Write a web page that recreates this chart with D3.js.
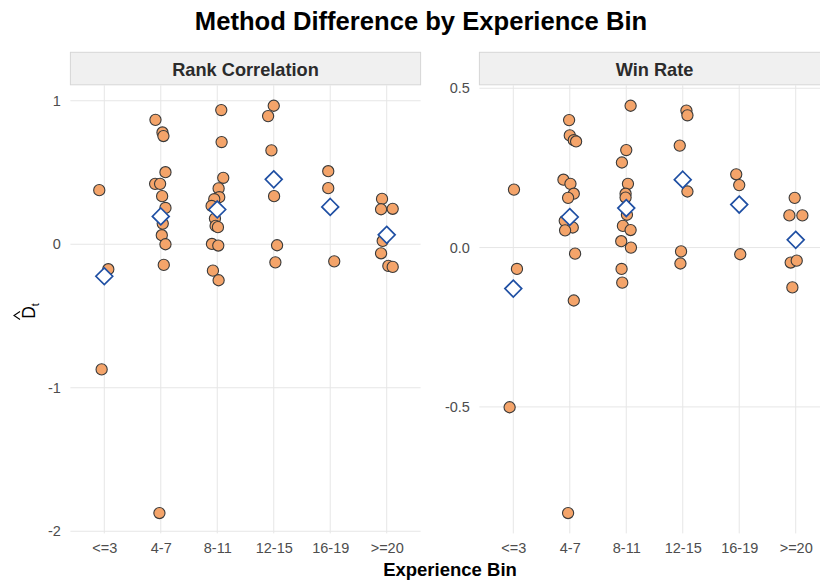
<!DOCTYPE html>
<html>
<head>
<meta charset="utf-8">
<script src="https://cdn.jsdelivr.net/npm/d3@7"></script>
<style>
body{margin:0;background:#fff;}
svg{display:block;font-family:"Liberation Sans",Arial,sans-serif;}
</style>
</head>
<body>
<script>
// experience bins and the two facets
const bins=["<=3","4-7","8-11","12-15","16-19",">=20"];
const panels=["Rank Correlation","Win Rate"];

// per-bin values
const rankValues=[
 [0.377,-0.174,-0.872],
 [0.867,0.779,0.754,0.502,0.421,0.421,0.335,0.253,0.144,0.063,0.0,-0.144,-1.873],
 [0.935,0.712,0.463,0.389,0.328,0.314,0.267,0.179,0.128,0.119,0.002,-0.009,-0.184,-0.251],
 [0.965,0.893,0.654,0.335,-0.007,-0.126],
 [0.509,0.391,-0.119],
 [0.316,0.244,0.247,0.023,-0.063,-0.151,-0.158]
];
// horizontal jitter (category units)
const rankJitter=[
 [-0.089,0.071,-0.047],
 [-0.094,0.03,0.047,0.083,-0.1,-0.012,0.024,0.083,0.035,0.018,0.083,0.053,-0.024],
 [0.071,0.077,0.106,0.024,0.035,-0.053,-0.1,-0.041,-0.029,0.012,-0.094,0.018,-0.077,0.024],
 [0,-0.1,-0.041,0.006,0.059,0.029],
 [-0.035,-0.035,0.071],
 [-0.083,-0.1,0.106,-0.071,-0.1,0.029,0.106]
];
const winValues=[
 [0.182,-0.067,-0.501],
 [0.4,0.352,0.337,0.333,0.213,0.2,0.169,0.156,0.084,0.063,0.054,-0.019,-0.166,-0.833],
 [0.445,0.306,0.267,0.2,0.169,0.157,0.103,0.068,0.055,0.02,0.0,-0.067,-0.11],
 [0.43,0.415,0.32,0.176,-0.012,-0.05],
 [0.23,0.196,-0.021],
 [0.156,0.101,0.101,-0.047,-0.041,-0.125]
];
const winJitter=[
 [0.012,0.065,-0.065],
 [-0.012,0,0.071,0.112,-0.112,0.012,0.071,-0.03,-0.089,0.053,-0.083,0.094,0.071,-0.03],
 [0.077,0,-0.077,0.03,-0.012,-0.012,0.012,-0.059,0.077,-0.089,0.083,-0.083,-0.071],
 [0.065,0.083,-0.053,0.083,-0.03,-0.041],
 [-0.053,0,0.018],
 [-0.018,-0.112,0.118,-0.089,0.018,-0.059]
];
const rankTicks=[-2,-1,0,1];
const winTicks=[-0.5,0,0.5];

const w=820,h=581;
const panelTop=85.4,panelBottom=533.4,stripTop=52.3;
const panelLeft=[70.4,479.4],panelW=350.2;

const svg=d3.select("body").append("svg")
  .attr("width",w).attr("height",h);

const hyphen=f=>d=>f(d).replace("\u2212","-");

const facets=[
  {name:panels[0],values:rankValues,jitter:rankJitter,ticks:rankTicks,fmt:hyphen(d3.format("d"))},
  {name:panels[1],values:winValues,jitter:winJitter,ticks:winTicks,fmt:hyphen(d3.format(".1f"))}
];

facets.forEach((f,i)=>{
  const x0=panelLeft[i];
  const all=f.values.flat();
  const ext=d3.extent(all);
  const pad=(ext[1]-ext[0])*0.05;
  const y=d3.scaleLinear().domain([ext[0]-pad,ext[1]+pad]).range([panelBottom,panelTop]);
  const x=d3.scaleLinear().domain([0.4,6.6]).range([x0,x0+panelW]);

  const g=svg.append("g");
  // gridlines
  g.selectAll(".hg").data(f.ticks).enter().append("line")
    .attr("x1",x0).attr("x2",x0+panelW)
    .attr("y1",d=>y(d)).attr("y2",d=>y(d))
    .attr("stroke","#e6e6e6").attr("stroke-width",1);
  g.selectAll(".vg").data(bins).enter().append("line")
    .attr("x1",(d,k)=>x(k+1)).attr("x2",(d,k)=>x(k+1))
    .attr("y1",panelTop).attr("y2",panelBottom)
    .attr("stroke","#e6e6e6").attr("stroke-width",1);

  // strip
  g.append("rect").attr("x",x0).attr("y",stripTop)
    .attr("width",panelW).attr("height",panelTop-stripTop-0.6)
    .attr("fill","#f0f0f0").attr("stroke","#d6d6d6").attr("stroke-width",1);
  g.append("text").attr("x",x0+panelW/2).attr("y",panelTop-9.8)
    .attr("text-anchor","middle").attr("font-size",18.2).attr("font-weight","bold")
    .attr("fill","#2b2b2b").text(f.name);

  // axes
  const yAxis=d3.axisLeft(y).tickValues(f.ticks).tickFormat(f.fmt).tickSize(0).tickPadding(9.5);
  const ya=g.append("g").attr("transform","translate("+x0+",0)").call(yAxis);
  const xAxis=d3.axisBottom(x).tickValues(d3.range(1,7)).tickFormat(d=>bins[d-1]).tickSize(0).tickPadding(9);
  const xa=g.append("g").attr("transform","translate(0,"+panelBottom+")").call(xAxis);
  [ya,xa].forEach(a=>{
    a.select(".domain").remove();
    a.selectAll("text").attr("font-size",14.5).attr("fill","#4d4d4d")
      .attr("font-family","'Liberation Sans',Arial,sans-serif");
  });

  // points
  const pts=[];
  f.values.forEach((arr,k)=>arr.forEach((v,j)=>pts.push({bin:k+1,v:v,jit:f.jitter[k][j]})));
  g.selectAll("circle").data(pts).enter().append("circle")
    .attr("cx",d=>x(d.bin+d.jit)).attr("cy",d=>y(d.v)).attr("r",5.6)
    .attr("fill","#F4A46A").attr("stroke","#3a3a3a").attr("stroke-width",1.1);

  // bin means
  const means=f.values.map((arr,k)=>({bin:k+1,m:d3.mean(arr)}));
  g.selectAll(".mean").data(means).enter().append("path")
    .attr("class","mean")
    .attr("transform",d=>"translate("+x(d.bin)+","+y(d.m)+")")
    .attr("d",d3.symbol().type(d3.symbolDiamond2).size(180))
    .attr("fill","#fff").attr("stroke","#1f4fa3").attr("stroke-width",1.7);
});

// title & axis titles
svg.append("text").attr("x",421).attr("y",30).attr("text-anchor","middle")
  .attr("font-size",25.6).attr("font-weight","bold").attr("fill","#000")
  .text("Method Difference by Experience Bin");
svg.append("text").attr("x",450).attr("y",576).attr("text-anchor","middle")
  .attr("font-size",18.5).attr("font-weight","bold").attr("fill","#000")
  .text("Experience Bin");

const yl=svg.append("g").attr("transform","translate(35,311) rotate(-90)");
const yt=yl.append("text").attr("text-anchor","middle").attr("font-size",17.5).attr("fill","#000");
yt.append("tspan").text("D");
yt.append("tspan").attr("font-size",11).attr("dy",4).text("t");
yl.append("path").attr("d","M-8.5,-15 L-4.5,-21 L-0.5,-15")
  .attr("fill","none").attr("stroke","#000").attr("stroke-width",1.1);
</script>
</body>
</html>
